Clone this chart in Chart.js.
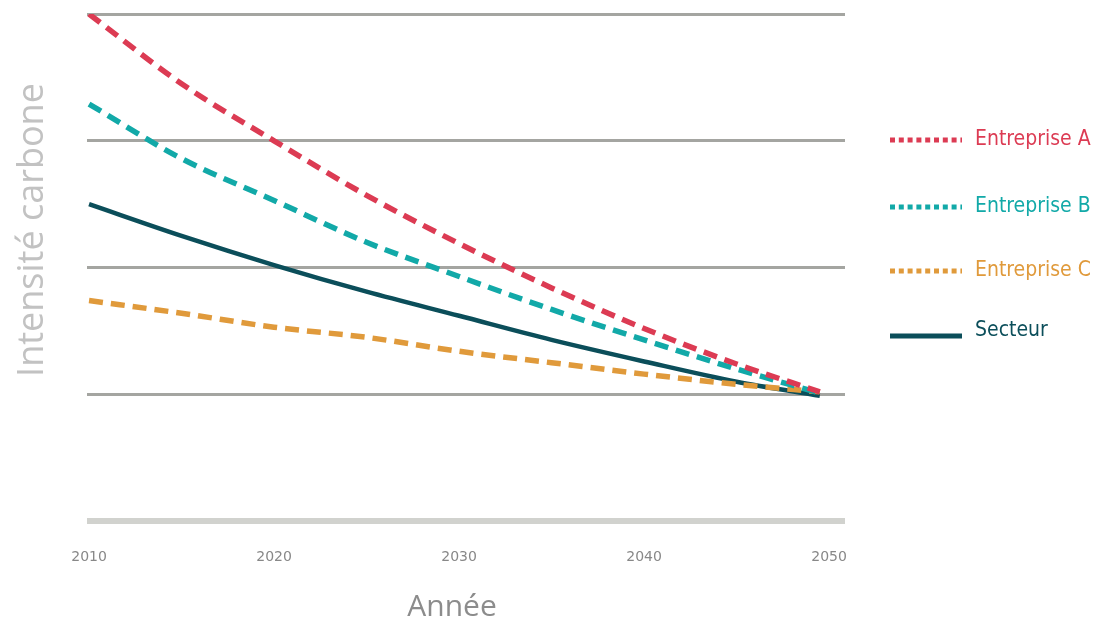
<!DOCTYPE html>
<html>
<head>
<meta charset="utf-8">
<script src="https://cdn.jsdelivr.net/npm/chart.js@4/dist/chart.umd.min.js"></script>
<style>
    body { margin: 0; background: #fff; }
    #wrap { width: 1097px; height: 623px; }
</style>
</head>
<body>
<div id="wrap"><canvas id="intensity"></canvas></div>
<script>
const years = [2010, 2015, 2020, 2025, 2030, 2035, 2040, 2045, 2049.5];
const xTicks = [2010, 2020, 2030, 2040, 2050];

const entrepriseA = [4.0, 3.45, 3.0, 2.57, 2.19, 1.84, 1.52, 1.24, 1.02];
const entrepriseB = [3.29, 2.86, 2.53, 2.2, 1.93, 1.67, 1.43, 1.2, 1.01];
const entrepriseC = [1.74, 1.64, 1.53, 1.45, 1.34, 1.25, 1.16, 1.08, 1.02];
const secteur = [2.5, 2.25, 2.02, 1.81, 1.62, 1.43, 1.26, 1.1, 0.99];

const labels = ['Entreprise A', 'Entreprise B', 'Entreprise C', 'Secteur'];
const colors = ['#dc3b53', '#12a9a8', '#e09a3b', '#0b4e5a'];

const toPoints = (values) => values.map((v, i) => ({ x: years[i], y: v }))

const makeSet = (i, values, dashed) => ({
    label: labels[i],
    data: toPoints(values),
    borderColor: colors[i],
    borderWidth: dashed ? 5.5 : 4.5,
    borderDash: dashed ? [14, 8] : [],
    pointRadius: 0,
    cubicInterpolationMode: 'monotone',
    fill: false
})

// legend + axis titles drawn by hand, positions follow the original layout
const decorations = {
    id: 'decorations',
    afterDraw: (chart) => {
        const ctx = chart.ctx;
        ctx.save();

        const rows = [140, 207, 271, 333];
        rows.forEach((y, i) => {
            ctx.strokeStyle = colors[i];
            ctx.lineWidth = 5;
            ctx.setLineDash(i < 3 ? [5, 3.8] : []);
            ctx.beginPath();
            ctx.moveTo(890, i < 3 ? y : y + 3);
            ctx.lineTo(962, i < 3 ? y : y + 3);
            ctx.stroke();

            ctx.setLineDash([]);
            ctx.fillStyle = colors[i];
            ctx.font = "21px 'Liberation Sans Narrow', 'DejaVu Sans Condensed', sans-serif";
            ctx.textBaseline = 'middle';
            ctx.textAlign = 'left';
            ctx.fillText(labels[i], 975, i < 3 ? y : y - 2);
        });

        ctx.fillStyle = '#c2c2c2';
        ctx.font = "36px 'Open Sans', sans-serif";
        ctx.textAlign = 'center';
        ctx.textBaseline = 'middle';
        ctx.translate(33, 230);
        ctx.rotate(-Math.PI / 2);
        ctx.fillText('Intensité carbone', 0, 0);
        ctx.restore();

        ctx.save();
        ctx.fillStyle = '#8c8c8c';
        ctx.font = "30px 'Open Sans', sans-serif";
        ctx.textAlign = 'center';
        ctx.textBaseline = 'alphabetic';
        ctx.fillText('Année', 452, 616);
        ctx.restore();
    }
}

new Chart(document.getElementById('intensity'), {
    type: 'line',
    data: {
        datasets: [
            makeSet(0, entrepriseA, true),
            makeSet(1, entrepriseB, true),
            makeSet(2, entrepriseC, true),
            makeSet(3, secteur, false)
        ]
    },
    options: {
        responsive: true,
        maintainAspectRatio: false,
        animation: false,
        layout: {
            padding: { left: 87, right: 252, top: 14, bottom: 37 }
        },
        plugins: {
            legend: { display: false },
            tooltip: { enabled: false }
        },
        scales: {
            x: {
                type: 'linear',
                min: 2009.89,
                max: 2050.86,
                afterBuildTicks: (scale) => {
                    scale.ticks = xTicks.map(v => ({ value: v }))
                },
                grid: { display: false },
                border: { display: false },
                ticks: {
                    padding: 20,
                    color: '#888888',
                    font: { family: 'DejaVu Sans', size: 14 },
                    maxRotation: 0,
                    callback: (v) => String(v)
                }
            },
            y: {
                min: 0,
                max: 4,
                ticks: { display: false, stepSize: 1 },
                border: { display: false },
                grid: {
                    drawTicks: false,
                    color: (c) => c.tick.value === 0 ? '#d1d2ce' : '#a4a5a1',
                    lineWidth: (c) => c.tick.value === 0 ? 6 : 3
                }
            }
        }
    },
    plugins: [decorations]
});
</script>
</body>
</html>
